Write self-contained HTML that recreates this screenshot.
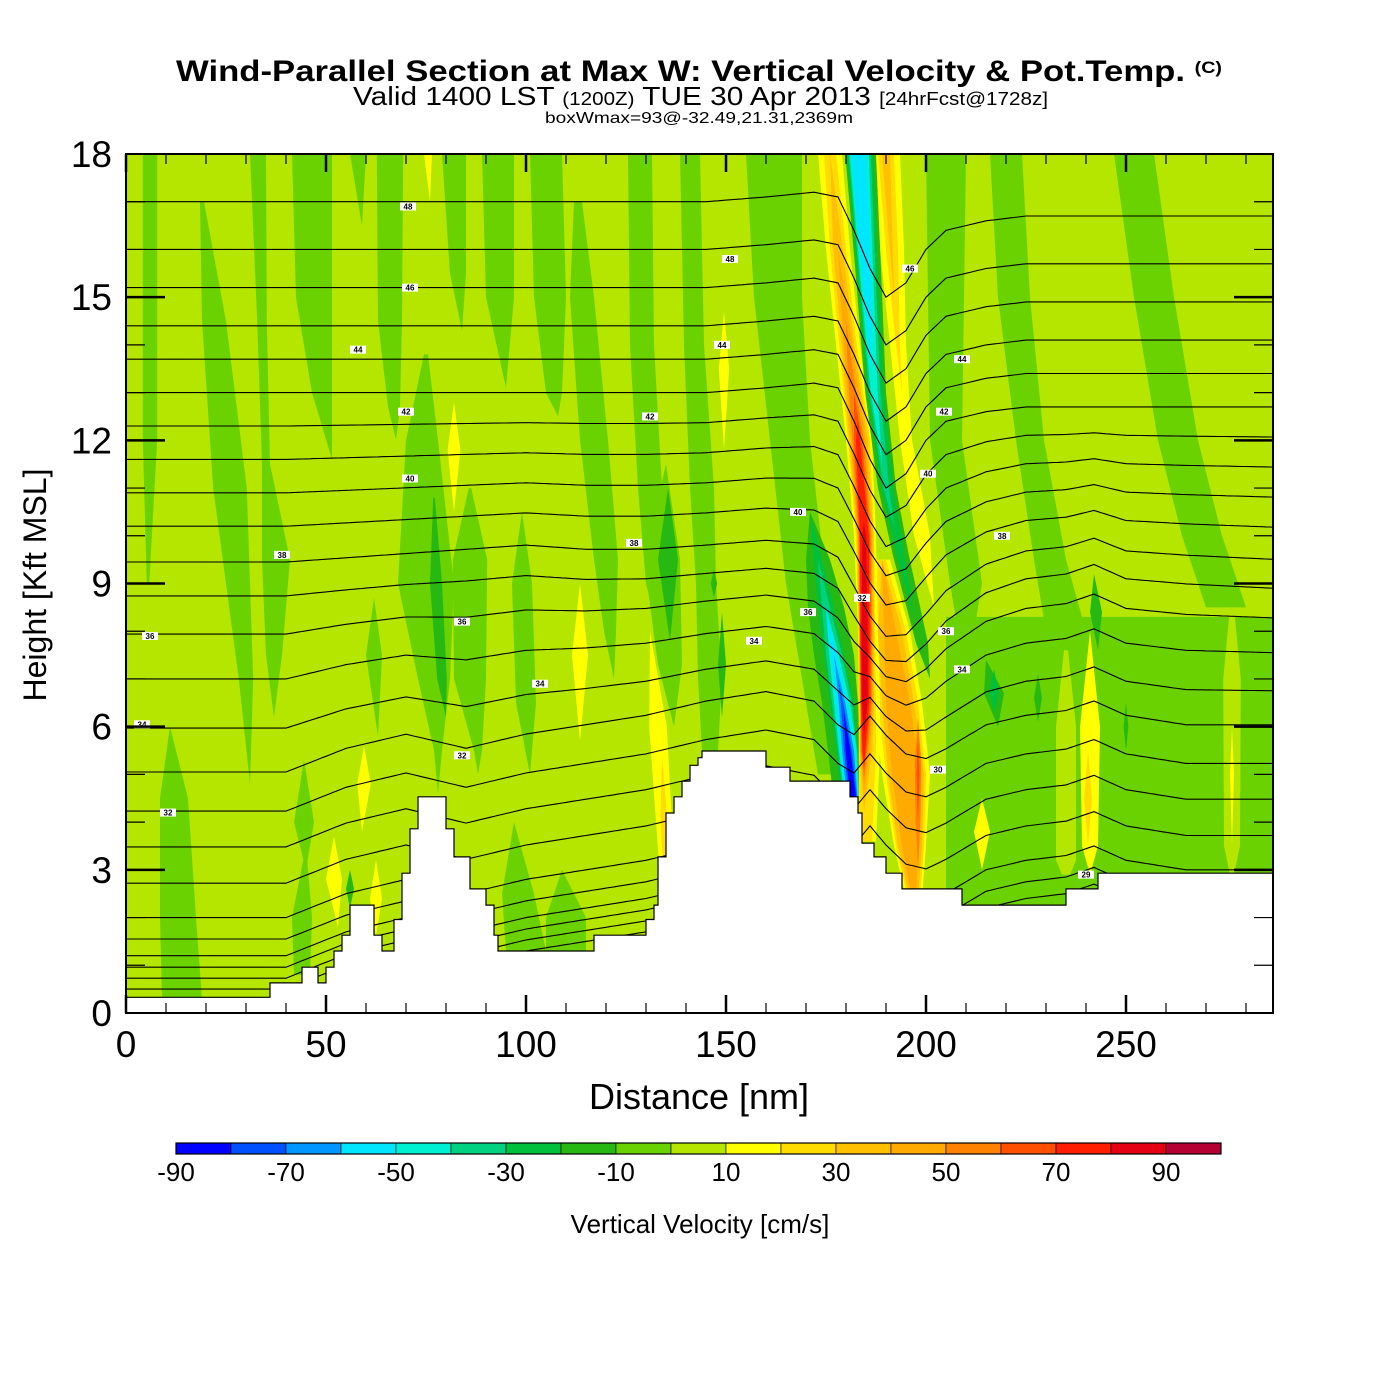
<!DOCTYPE html>
<html><head><meta charset="utf-8"><title>Wind-Parallel Section</title>
<style>html,body{margin:0;padding:0;background:#fff}svg{display:block}text{font-family:"Liberation Sans",Arial,sans-serif}</style>
</head><body>
<svg id="chart" xmlns="http://www.w3.org/2000/svg" width="1400" height="1400" viewBox="0 0 1400 1400">
<rect x="0" y="0" width="1400" height="1400" fill="#fff"/>
<text x="176" y="81" textLength="1046" lengthAdjust="spacingAndGlyphs" font-size="30" font-weight="bold">Wind-Parallel Section at Max W: Vertical Velocity &amp; Pot.Temp. <tspan font-size="17" dy="-8">(C)</tspan></text>
<text x="353" y="105" textLength="695" lengthAdjust="spacingAndGlyphs" font-size="26">Valid 1400 LST <tspan font-size="18">(1200Z)</tspan> TUE 30 Apr 2013 <tspan font-size="18">[24hrFcst@1728z]</tspan></text>
<text x="545" y="123" textLength="308" lengthAdjust="spacingAndGlyphs" font-size="16">boxWmax=93@-32.49,21.31,2369m</text>
<defs><clipPath id="plotClip"><rect x="126" y="154" width="1147" height="859"/></clipPath></defs>
<g id="plot" clip-path="url(#plotClip)">
<rect x="126" y="154" width="1147" height="859" fill="#b4e600"/>
<g id="fields"></g><g id="contours"></g><g id="clabels"></g><g id="terrain"></g>
</g>
<rect x="126" y="154" width="1147" height="859" fill="none" stroke="#000" stroke-width="2"/>
<g id="axes"></g>
<text x="699" y="1109" text-anchor="middle" font-size="36">Distance [nm]</text>
<text x="0" y="0" transform="translate(46,585) rotate(-90)" text-anchor="middle" font-size="32">Height [Kft MSL]</text>
<g id="colorbar"></g>
<text x="700" y="1233" text-anchor="middle" font-size="26">Vertical Velocity [cm/s]</text>
</svg>
<script>
// ---- data ----
const vBins = [-90,-80,-70,-60,-50,-40,-30,-20,-10,0,10,20,30,40,50,60,70,80,90];
const vColors = ["#0000ff","#0050ff","#0096ff","#00e6ff","#00f0d2","#00d282","#00c03c","#28b814","#6ad200","#b4e600","#ffff00","#ffdc00","#ffc000","#ffaa00","#ff8200","#ff5000","#ff1e00","#e60014","#b40032"];
const cbarLabels = [-90,-70,-50,-30,-10,10,30,50,70,90];
const xTicks = [0,50,100,150,200,250];
const yTicks = [0,3,6,9,12,15,18];
const terrX = [0,36,44,48,50,52,54,56,62,64,67,69,71,73,80,82,86,90,92,93,117,130,132,133,135,137,139,141,143,144,160,166,181,183,184,187,190,194,209,235,243];
const terrH = [0.33,0.63,0.96,0.63,0.96,1.3,1.63,2.26,1.63,1.3,1.96,2.93,3.86,4.53,3.86,3.27,2.6,2.26,1.63,1.3,1.63,1.96,2.26,3.27,4.19,4.53,4.86,5.19,5.35,5.49,5.15,4.86,4.53,4.19,3.56,3.27,2.93,2.6,2.26,2.6,2.93];
const thetaLevels = [48,47,46,45,44,43,42,41,40,39,38,37,36,35,34,33,32,31,30,29,28,27,26,25,24];
const thetaBase = [17.0,16.0,15.2,14.4,13.7,13.0,12.3,11.6,10.9,10.2,9.45,8.74,7.94,7.0,5.97,5.05,4.23,3.48,2.72,2.0,1.55,1.2,0.96,0.73,0.5];
const knotX = [0,20,40,55,70,85,100,115,130,145,160,172,178,182,186,190,195,200,205,215,225,235,242,250,265,287];
const dispLow = [0,0,0,0.5,0.8,0.5,0.8,1.0,1.2,1.5,1.7,1.5,1.0,0.8,1.2,0.8,0.4,0.3,0.5,1.0,1.2,1.3,1.5,1.2,1.0,1.0];
const dispMid = [0,0,0,0.1,0.2,0.3,0.4,0.3,0.3,0.4,0.5,0.4,0.1,-0.5,-1.1,-1.5,-1.5,-1.1,-0.6,0,0.3,0.4,0.6,0.3,0.2,0.1];
const dispHigh = [0,0,0,0,0,0,0,0,0,0,0.1,0.2,0.1,-0.6,-1.4,-2.0,-1.7,-1.0,-0.6,-0.4,-0.3,-0.3,-0.3,-0.3,-0.3,-0.3];
const labelText = ["48","46","44","42","40","38","36","34","32","36","32","34","38","42","44","48","40","36","34","32","46","44","42","40","38","36","34","30","29"];
const labelX = [70.5,71,58,70,71,39,6,4,10.5,84,84,103.5,127,131,149,151,168,170.5,157,184,196,209,204.5,200.5,219,205,209,203,240];
const labelY = [16.9,15.2,13.9,12.6,11.2,9.6,7.9,6.05,4.2,8.2,5.4,6.9,9.85,12.5,14,15.8,10.5,8.4,7.8,8.7,15.6,13.7,12.6,11.3,10.0,8.0,7.2,5.1,2.9];
// vertical velocity features: value bin + ribbon [x nm, y kft, halfwidthLeft, halfwidthRight]
const featureVals = [
 -10,-10,-10,-10,-10,-10,-10,-10,-10,-10,-10,-10,-10,-10,-10,-10,-10,-10,-10,-10,-10,-10,-10,-10,-10,-10,-10,
 0,0,
 10,10,10,10,10,10,10,10,10,10,10,
 20,20,
 -20,-20,-20,-20,-20,-20,-20,-20,-20,-30,
 -20,-30,-40,-50,-60,-70,-80,-90,
 10,20,30,40,50,60,
 10,20,30,
 10,20,30,40,50,60,70,80,
 -20,-30,-40,-50,-60
];
const featurePaths = [
 [[6,18,1.8],[6,12,1.8],[5.5,9,0.3]],
 [[19,17,0.5],[22,14.5,3],[26,11,4.2],[30,7,1.8],[31,4.8,0]],
 [[33,18,2],[34,14.5,1.2],[35,11.5,1],[37.5,9.5,3.5],[37,7.5,2],[37,6.2,0]],
 [[46.5,18,5],[47,15,4.5],[49,13,2.5],[51.5,11.6,0]],
 [[58,18,2],[59,16.5,0]],
 [[66,18,3.3],[66,14.5,3],[67,12.7,1.5],[67.5,12,0]],
 [[75,13.8,0.5],[74,12,4],[75,9,7],[77,7,4],[78,5.5,1],[78,4.6,0]],
 [[86,11,0.3],[86,9.5,4.3],[86,7,4],[88,5.5,1],[88,5,0]],
 [[82,18,3],[83,15.5,2],[84,14.3,0]],
 [[93,18,4],[93.5,15,3.5],[95,13.1,0]],
 [[62,8.7,0],[62,7.5,2],[63,5.8,0]],
 [[11,6,0],[12,4.5,3.5],[13,2,4.5],[14,0.3,5]],
 [[45,3.5,0],[44,2,2.5],[44,0.8,2]],
 [[44.5,5.3,0],[44.5,4,2.5],[45,3,0]],
 [[105,18,4],[106,15,4],[107,13,2],[108,12.5,0]],
 [[113,17,1],[114,15,3],[117,12,3.5],[120,9.5,3],[121,8,1.5],[122,7,0]],
 [[99,10.5,0],[99,9,2.5],[100,6.5,2.5],[101,5,0]],
 [[128.5,18,3],[129,14,3],[131,11,3],[132,9,2],[133,8,0]],
 [[135,11.5,0],[134,9.5,4.5],[136,7.3,3],[137,6,0]],
 [[141,18,2.5],[142,14,2.5],[144,11,3],[145,9,2.5],[146,7,3],[146,5.5,2]],
 [[162,18,7],[163,15,6],[166,12,5],[170,9,5],[173,7,4],[175,5,2]],
 [[97,4,0],[98,2.5,4],[100,1.3,5]],
 [[109,3,0],[110,2,5],[110,1.3,5]],
 [[205,18,5],[205,12,4],[210,9,4],[210,7,0]],
 [[220,18,4],[222,15,4],[226,12,3.5],[231,9.5,4],[235,8,5]],
 [[252,18,5],[257,15,5],[263,12,5],[269,10,5],[275,8.5,5]],
 [[246,8.3,41],[246,2,41]],
 [[235,7.6,0.5],[235,6,2.5],[235,3.2,2.5],[235,2.9,1]],
 [[276.5,8.5,0.5],[276.5,7,2.2],[276.5,3.5,2],[276.5,2.9,0.5]],
 [[82,12.8,0],[82,11.8,1.6],[82,10.5,0]],
 [[75.5,18,1],[76,17,0]],
 [[59.5,5.6,0],[59.5,4.8,1.7],[59,3.8,0]],
 [[52,3.7,0],[52,2.8,2],[53,1.8,0]],
 [[62.5,3.2,0],[62.5,2.4,1.5],[62.5,1.6,0]],
 [[149.5,14.7,0],[149.5,13.5,1.3],[149.5,11.8,0]],
 [[113.5,9,0],[113.5,7.5,2],[113.5,5.7,0]],
 [[131,8,0],[133,6,2.2],[134.5,4,2],[135,2.3,1]],
 [[241,8,0],[241,6,2.5],[241,3.5,2],[241,2.9,0]],
 [[276.5,6,0],[276.5,5,0.5],[276.5,3.5,0]],
 [[214,4.5,0],[214,3.8,2],[214,3,0]],
 [[134,5.4,0],[134.5,4,0.9],[134.5,2.8,0]],
 [[240.5,5.5,0],[240.5,4.5,1],[240.5,3.5,0]],
 [[77,10.8,0.2],[77.5,9,1.5],[79,7,1.2],[80,6.2,0]],
 [[135.5,11,0],[135.5,9.5,2.5],[136,7.8,0]],
 [[147,9.3,0],[147,9,0.8],[147,8.7,0]],
 [[149,8.4,0],[149,7.3,1],[149,6.2,0]],
 [[242,9.2,0],[242.5,8.4,1.5],[243,7.6,0]],
 [[215,7.4,0],[217,6.7,2.5],[218,6,0]],
 [[228,7.1,0],[228,6.6,1],[228,6.1,0]],
 [[250,6.5,0],[250,6,0.6],[250,5.5,0]],
 [[56,3,0],[56,2.6,1],[56,2.2,0]],
 [[217,7.2,0],[217,6.7,1.2],[217,6.3,0]],
 // lower downdraft
 [[182,4.4,5,2],[180.5,5.5,5,3],[179,6.5,5,4],[177,7.5,5,5],[175,8.5,4.5,4.5],[173,9.5,3,3],[171,10.5,0,0]],
 [[182,4.4,3,1.5],[180.5,5.5,3,2.5],[179,6.5,3,3],[177,7.5,2.5,2.5],[175,8.5,2,2],[173,9.5,1,1],[171,10.5,0,0]],
 [[182,4.4,2.5,1.3],[180.5,5.5,2.5,2.3],[179,6.5,2.5,2.5],[177,7.5,2,2],[175,8.5,1,1],[173,9.5,0,0]],
 [[182,4.4,2.2,1.2],[180.5,5.5,2.2,2.2],[179,6.5,2,2],[177,7.5,1.2,1.2],[175,8.5,0,0]],
 [[182,4.4,1.9,1.1],[180.5,5.5,1.9,1.9],[179,6.5,1.5,1.5],[177,7.5,0.8,0.8],[175,8.5,0,0]],
 [[182,4.4,1.6,1],[180.5,5.5,1.5,1.5],[179,6.5,0.8,0.8],[177,7.5,0,0]],
 [[182,4.4,1.2,0.9],[180.5,5.5,1.0,1.0],[179,6.5,0.3,0.3],[178,7,0,0]],
 [[182,4.4,0.8,0.7],[180.5,5.5,0.6,0.6],[179.5,6.3,0,0]],
 // lower updraft blob
 [[189,9.5,2],[191,8,5],[193,6.5,6],[195,5,6],[196,3.5,4],[197,2.4,2]],
 [[189,9.5,1],[191,8,4],[193,6.5,5],[195,5,5],[196,3.5,3.5],[197,2.4,1.5]],
 [[189,9.5,0],[191,8,3],[193,6.5,4],[195,5,4.5],[196,3.5,3],[197,2.4,1]],
 [[189,9.5,0],[191,8,1.5],[193,6.5,3],[195,5,3.5],[196,3.5,2],[197,2.4,0.5]],
 [[198,6.2,0],[198,5.2,0.8],[198,4,0.6],[198,3,0]],
 [[198,5.8,0],[198,5,0.4],[198,4,0]],
 // upper right yellow streak
 [[190,18,3.5],[191.5,16,3],[193,14,2],[195,12,1.5],[199,10,2],[202,8.5,0]],
 [[190,18,2],[191.5,16,1.5],[193,14,0.5],[194,13,0]],
 [[190,18,1],[191,16.5,0.5],[192,15,0]],
 // main updraft
 [[176,18,3,3],[178,16,3,3],[180.5,14,3,3],[183,12,3,3.5],[184.5,10,2.5,3],[184.5,8,1.5,3.5],[184.5,6.5,1.3,4],[184.5,5.5,1.3,4],[184.5,3.6,1.3,3]],
 [[176,18,1.5,1.5],[178,16,2,2],[180.5,14,2.2,2.2],[183,12,2.5,3],[184.5,10,2,2.5],[184.5,8,1.4,2.8],[184.5,6.5,1.2,3],[184.5,5.5,1.2,3],[184.5,3.6,1.2,2]],
 [[176,18,0,0],[178,16,1.2,1.2],[180.5,14,1.6,1.6],[183,12,2.2,2.5],[184.5,10,1.8,2.3],[184.5,8,1.3,2.5],[184.5,6.5,1.1,2.5],[184.5,5.5,1.1,2],[184.5,4.2,0,0]],
 [[178,16,0,0],[180.5,14,1.1,1.1],[183,12,1.8,2],[184.5,10,1.6,2],[184.5,8,1.2,2.2],[184.5,6.5,1,2.2],[184.5,5.5,1,1.5],[184.5,4.6,0,0]],
 [[180,14.5,0,0],[181,13.5,0.6,0.6],[183,12,1.4,1.5],[184.5,10,1.4,1.8],[184.5,8,1.1,2],[184.5,6.5,0.9,2],[184.5,5.5,0.8,1],[184.5,4.9,0,0]],
 [[182,13,0,0],[183,12,1,1],[184.5,10,1.2,1.5],[184.5,8,1,1.7],[184.5,6.5,0.8,1.7],[184.5,5.5,0.6,0.6],[184.5,5.1,0,0]],
 [[183,12.4,0,0],[183,12,0.5,0.5],[184.5,10,1,1.2],[184.5,8,0.9,1.4],[184.5,6.5,0.7,1.3],[184.5,5.5,0.4,0.3],[184.5,5.2,0,0]],
 [[184.5,10.3,0,0],[184.5,10,0.4,0.5],[184.5,8,0.6,0.9],[184.5,6.5,0.5,0.9],[184.5,5.8,0,0]],
 // upper downdraft
 [[183,18,3.2,4.5],[185,15.5,2.6,3.8],[187,13,2.2,3],[190,11,2,2.5],[193.5,9.6,1.8,2.2],[199,7.75,1.5,1.5],[201,7,0,0]],
 [[183,18,2.8,3.8],[185,15.5,2.2,3],[187,13,1.6,2.4],[190,11,1.2,1.8],[193.5,9.6,0.8,1.1],[197,8.3,0,0]],
 [[183,18,2.4,3.2],[185,15.5,1.8,2.4],[187,13,1.2,1.6],[190,11,0.6,0.8],[192,10.2,0,0]],
 [[183,18,2.1,2.7],[185,15.5,1.5,1.8],[187,13,0.8,0.9],[189,11.5,0,0]],
 [[183,18,1.7,2.1],[185,15.5,1.0,1.2],[186.5,13.3,0,0]]
];
// ---- scales ----
const X0=126, X1=1273, Y0=1013, Y1=154, XMAX=286.75, YMAX=18;
function sx(v){return X0+(X1-X0)*v/XMAX;}
function sy(v){return Y0-(Y0-Y1)*v/YMAX;}
const NS="http://www.w3.org/2000/svg";
function mk(tag,attrs,parent){const e=document.createElementNS(NS,tag);for(const k in attrs)e.setAttribute(k,attrs[k]);parent.appendChild(e);return e;}
// ---- fields ----
const gF=document.getElementById('fields');
featurePaths.forEach((pts,i)=>{
  const left=[],right=[];
  pts.forEach(p=>{const hl=p[2],hr=(p.length>3?p[3]:p[2]);left.push(sx(p[0]-hl).toFixed(1)+','+sy(p[1]).toFixed(1));right.unshift(sx(p[0]+hr).toFixed(1)+','+sy(p[1]).toFixed(1));});
  const col=vColors[vBins.indexOf(featureVals[i])];
  const el=mk('polygon',{points:left.concat(right).join(' '),fill:col},gF);
  
  
});
// ---- theta contours ----
function interp(arr,x){for(let k=0;k<knotX.length-1;k++){if(x<=knotX[k+1]){const t=(x-knotX[k])/(knotX[k+1]-knotX[k]);return arr[k]+(arr[k+1]-arr[k])*t;}}return arr[arr.length-1];}
const gC=document.getElementById('contours');
thetaLevels.forEach((lev,i)=>{
  const b=thetaBase[i];const pts=[];
  for(let x=0;x<=287;x+=1){
    const lo=interp(dispLow,x),mi=interp(dispMid,x),hi=interp(dispHigh,x);
    let d;
    if(b<=5)d=lo;else if(b<=9)d=lo+(mi-lo)*(b-5)/4;else if(b<=13)d=mi+(hi-mi)*(b-9)/4;else d=hi;
    pts.push(sx(x).toFixed(1)+','+sy(b+d).toFixed(1));
  }
  const el=mk('polyline',{points:pts.join(' '),fill:'none',stroke:'#000','stroke-width':1.1},gC);
  
  
});
const gL=document.getElementById('clabels');
labelText.forEach((t,i)=>{
  const cx=sx(labelX[i]),cy=sy(labelY[i]);
  const r=mk('rect',{x:cx-8,y:cy-4,width:16,height:8,fill:'#fff'},gL);
  
  
  const tx=mk('text',{x:cx,y:cy+3,'text-anchor':'middle','font-size':8,'font-weight':'bold'},gL);
  tx.textContent=t;
  
  
});
// ---- terrain ----
let d='M'+sx(0)+','+sy(0);
terrX.forEach((x,i)=>{const x2=(i<terrX.length-1?terrX[i+1]:XMAX+1);d+=' L'+sx(x).toFixed(1)+','+sy(terrH[i]).toFixed(1)+' L'+sx(x2).toFixed(1)+','+sy(terrH[i]).toFixed(1);});
d+=' L'+sx(XMAX+1)+','+sy(0)+' Z';
const tEl=mk('path',{d:d,fill:'#fff',stroke:'#000','stroke-width':1.2},document.getElementById('terrain'));


// ---- axes ----
const gA=document.getElementById('axes');
for(let v=0;v<=280;v+=10){
  const L=(v%50===0)?18:10;
  const a=mk('line',{x1:sx(v),y1:Y0,x2:sx(v),y2:Y0-L,stroke:'#000','stroke-width':(v%50===0)?2.5:1.2},gA);
  
  const b=mk('line',{x1:sx(v),y1:Y1,x2:sx(v),y2:Y1+L,stroke:'#000','stroke-width':(v%50===0)?2.5:1.2},gA);
  
}
for(let v=1;v<=17;v++){
  const major=(v%3===0);const L=major?39:19;
  const a=mk('line',{x1:X0,y1:sy(v),x2:X0+L,y2:sy(v),stroke:'#000','stroke-width':major?2.5:1.2},gA);
  
  const b=mk('line',{x1:X1,y1:sy(v),x2:X1-L,y2:sy(v),stroke:'#000','stroke-width':major?2.5:1.2},gA);
  
}
xTicks.forEach(v=>{const t=mk('text',{x:sx(v),y:1057,'text-anchor':'middle','font-size':37},gA);t.textContent=v;
  });
yTicks.forEach(v=>{const t=mk('text',{x:112,y:sy(v)+13,'text-anchor':'end','font-size':37},gA);t.textContent=v;
  });
// ---- colorbar ----
const gB=document.getElementById('colorbar');
const cbX0=176,cbW=55,cbY=1143,cbH=11;
vBins.forEach((v,i)=>{const r=mk('rect',{x:cbX0+i*cbW,y:cbY,width:cbW,height:cbH,fill:vColors[i],stroke:'#000','stroke-width':0.6},gB);
  });
const fr=mk('rect',{x:cbX0,y:cbY,width:cbW*vBins.length,height:cbH,fill:'none',stroke:'#000','stroke-width':1.2},gB);

cbarLabels.forEach(v=>{const i=vBins.indexOf(v);const t=mk('text',{x:cbX0+i*cbW,y:1181,'text-anchor':'middle','font-size':26},gB);t.textContent=v;
  });
</script>
</body></html>
